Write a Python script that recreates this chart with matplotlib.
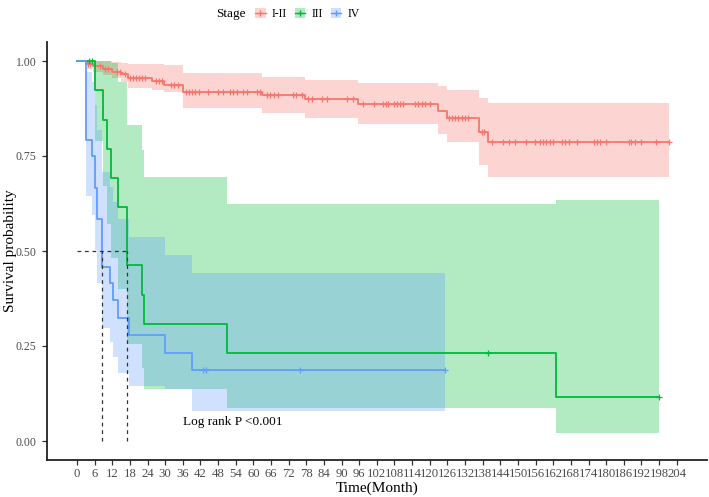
import numpy as np
import matplotlib.pyplot as plt
from matplotlib.patches import Patch
from matplotlib.lines import Line2D

plt.rcParams['font.family'] = ['Liberation Serif', 'DejaVu Serif']

# Stage I-II : step times, survival, CI upper / lower
t_12 = [0, 3.5, 5.5, 9, 12, 15, 17.5, 25.4, 29.6, 35.9, 62.8, 77.5, 95.5, 122.9, 125.9, 136.8, 139.9, 201.3]
s_12 = [1.0, 0.993, 0.986, 0.979, 0.972, 0.965, 0.955, 0.948, 0.937, 0.919, 0.911, 0.899, 0.886, 0.869, 0.851, 0.812, 0.787, 0.787]
up_12 = [1.0, 1.0, 1.0, 1.0, 0.998, 0.995, 0.993, 0.992, 0.99, 0.968, 0.958, 0.949, 0.942, 0.933, 0.924, 0.902, 0.889, 0.889]
lo_12 = [1.0, 0.98, 0.972, 0.963, 0.955, 0.945, 0.93, 0.925, 0.918, 0.877, 0.864, 0.85, 0.834, 0.807, 0.786, 0.727, 0.696, 0.696]
cens_12 = [3.6, 4.5, 7.7, 9.5, 10.5, 13.5, 14.6, 16.3, 18, 19, 20, 21, 22, 23, 27, 28, 29, 32, 33, 34.5,
           37, 38, 39, 40, 41.5, 44.7, 48, 49.8, 52, 53, 54.3, 56.5, 57.7, 61.1, 62.2, 64.5, 65.5, 67, 68.4,
           73.5, 74.5, 76.4, 78.6, 79.8, 83.2, 84.9, 91.7, 94, 97.4, 101, 104, 105, 105.8, 108, 109, 110, 111,
           115, 116, 117.2, 118.3, 120, 126.5, 127.5, 128.6, 129.7, 130.8, 132, 133, 137.6, 138.3, 141,
           144.8, 147, 149, 152.9, 155.7, 157.5, 158.6, 159.7, 160.8, 162, 165, 166, 167.5, 170,
           176, 177, 178, 180, 187.8, 188.6, 189.7, 192, 196.9, 201.3]

# Stage III
t_3 = [0, 6.1, 8.95, 10.1, 11.6, 13.8, 16.9, 22.0, 22.9, 50.9, 162.9, 198.0]
s_3 = [1.0, 0.923, 0.846, 0.769, 0.692, 0.615, 0.462, 0.385, 0.308, 0.231, 0.116, 0.116]
up_3 = [1.0, 1.0, 1.0, 1.0, 0.995, 0.945, 0.831, 0.765, 0.696, 0.623, 0.635, 0.635]
lo_3 = [1.0, 0.789, 0.671, 0.571, 0.482, 0.401, 0.256, 0.193, 0.136, 0.086, 0.021, 0.021]
cens_3 = [4.2, 5.1, 139.9, 198.0]

# Stage IV
t_4 = [0, 3.1, 5.0, 6.1, 6.9, 8.4, 11.2, 12.1, 14.0, 17.8, 29.9, 39.0, 125.1]
s_4 = [1.0, 0.792, 0.75, 0.667, 0.583, 0.459, 0.415, 0.37, 0.324, 0.278, 0.232, 0.186, 0.186]
up_4 = [1.0, 0.972, 0.945, 0.885, 0.818, 0.708, 0.669, 0.629, 0.583, 0.538, 0.49, 0.442, 0.442]
lo_4 = [1.0, 0.646, 0.595, 0.502, 0.415, 0.297, 0.26, 0.221, 0.179, 0.144, 0.136, 0.08, 0.08]
cens_4 = [43.0, 43.8, 75.8, 125.1]

stages = ['I-II', 'III', 'IV']
colors = ['#F8766D', '#00BA38', '#619CFF']
curves = [(t_12, s_12, up_12, lo_12, cens_12),
          (t_3, s_3, up_3, lo_3, cens_3),
          (t_4, s_4, up_4, lo_4, cens_4)]

medians = [8.4, 16.9]   # median survival of IV and III
x_ticks = np.arange(0, 205, 6)

fig = plt.figure(figsize=(7.09, 4.97), dpi=100)
ax = fig.add_axes([47/709, 37/497, 660/709, 418/497])

# confidence bands first, then the curves on top
for (t, s, up, lo, cens), col in zip(curves, colors):
    ax.fill_between(t, lo, up, step='post', color=col, alpha=0.3, lw=0)
for (t, s, up, lo, cens), col in zip(curves, colors):
    ax.step(t, s, where='post', color=col, lw=1.3)
    t = np.array(t)
    idx = np.searchsorted(t, cens, side='right') - 1
    idx = np.clip(idx, 0, len(s) - 1)
    ax.plot(cens, np.array(s)[idx], '+', color=col, ms=5, mew=0.9)

# median lines
ax.plot([0, max(medians)], [0.5, 0.5], ls=(0, (3, 3)), color='#333333', lw=0.9)
for m in medians:
    ax.plot([m, m], [0, 0.5], ls=(0, (3, 3)), color='#333333', lw=0.9)

ax.text(36, 0.05, 'Log rank P <0.001', fontsize=9.5, va='center', ha='left')

ax.set_xlim(-10.2, 214.3)
ax.set_ylim(-0.05, 1.05)
ax.set_xticks(x_ticks)
ax.set_xticklabels([str(v) for v in x_ticks], fontsize=9.2, color='#4d4d4d')
ax.set_yticks([0, 0.25, 0.5, 0.75, 1.0])
ax.set_yticklabels(['0.00', '0.25', '0.50', '0.75', '1.00'], fontsize=8.5, color='#4d4d4d')
ax.tick_params(length=3.5, width=0.9, pad=2, color='#333333')
ax.tick_params(axis='y', pad=4)
for side in ['top', 'right']:
    ax.spines[side].set_visible(False)
for side in ['left', 'bottom']:
    ax.spines[side].set_linewidth(1.3)
    ax.spines[side].set_color('#222222')
ax.set_xlabel('Time(Month)', fontsize=11, labelpad=1)
# y title placed by hand so it is not cut at the left edge
fig.text(11/709, 1 - 251/497, 'Survival probability', fontsize=11, rotation=90,
         ha='center', va='center')

# legend at the top
handles = [(Patch(facecolor=c, alpha=0.3, lw=0), Line2D([], [], color=c, marker='+', lw=1, ms=5))
           for c in colors]
fig.text(246/709, 1 - 14/497, 'Stage', fontsize=9.5, ha='right', va='center')
fig.legend(handles, stages, loc='center left', bbox_to_anchor=(249/709, 1 - 14/497), ncol=3,
           frameon=False, fontsize=8.5, handlelength=0.9, handleheight=0.9, handletextpad=0.5,
           columnspacing=0.7, borderpad=0)

fig.savefig('out.png', dpi=100)
